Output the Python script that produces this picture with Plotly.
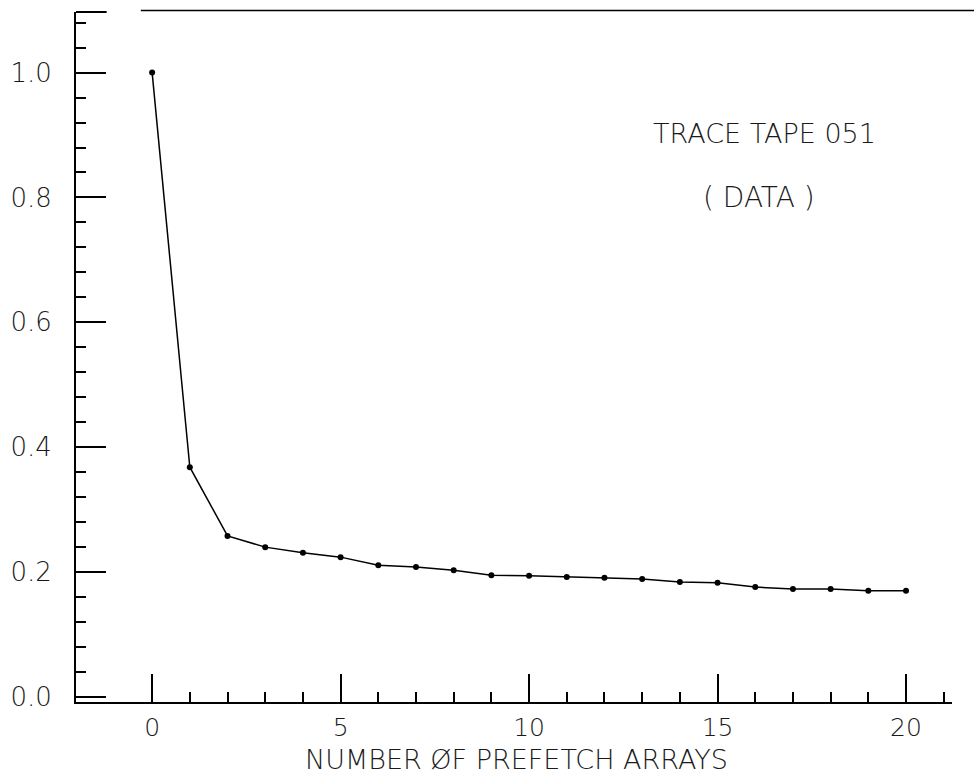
import plotly.graph_objects as go

# Relative miss count versus number of prefetch arrays (trace tape 051)
prefetch_arrays = list(range(0, 21))
relative_misses = [1.000, 0.368, 0.258, 0.240, 0.231, 0.224, 0.211, 0.208, 0.203,
                   0.195, 0.194, 0.192, 0.191, 0.189, 0.184, 0.183, 0.176, 0.173,
                   0.173, 0.170, 0.170]

x_major = [0, 5, 10, 15, 20]
x_minor = [i for i in range(1, 22) if i % 5 != 0]
y_major = [0.0, 0.2, 0.4, 0.6, 0.8, 1.0]
y_minor = [round(0.04 * k, 2) for k in range(1, 28) if k % 5 != 0]

x_title = "NUMBER ØF PREFETCH ARRAYS"
label_lines = ["TRACE TAPE 051", "( DATA )"]

FONT = dict(family="'DejaVu Sans', sans-serif", color="#1a1a1a", weight=200)

fig = go.Figure()
fig.add_trace(go.Scatter(
    x=prefetch_arrays, y=relative_misses,
    mode="lines+markers",
    line=dict(color="black", width=1.5),
    marker=dict(color="black", size=6),
    showlegend=False,
))

fig.update_layout(
    width=974, height=777,
    margin=dict(l=76, r=22, t=12, b=75),
    paper_bgcolor="white", plot_bgcolor="white",
    font=dict(**FONT, size=26),
    xaxis=dict(
        range=[-2.02, 21.22],
        automargin=False,
        showgrid=False, zeroline=False,
        showline=True, linecolor="black", linewidth=2,
        ticks="inside", ticklen=28, tickwidth=1.5, tickcolor="black",
        tickvals=x_major, ticktext=[str(v) for v in x_major],
        tickfont=dict(**FONT, size=25),
        ticklabelstandoff=2,
        minor=dict(tickvals=x_minor, ticks="inside", ticklen=10,
                   tickwidth=1.5, tickcolor="black"),
    ),
    yaxis=dict(
        range=[-0.008, 1.097],
        automargin=False,
        showgrid=False, zeroline=False,
        showline=True, linecolor="black", linewidth=2,
        ticks="inside", ticklen=30, tickwidth=1.5, tickcolor="black",
        tickvals=y_major, ticktext=[f"{v:.1f}" for v in y_major],
        tickfont=dict(**FONT, size=26),
        ticklabelstandoff=17,
        minor=dict(tickvals=y_minor, ticks="inside", ticklen=10,
                   tickwidth=1.5, tickcolor="black"),
    ),
)

# Frame line across the top of the plot
fig.add_shape(type="line", xref="paper", yref="paper",
              x0=0.0, x1=0.035, y0=1.0, y1=1.0,
              line=dict(color="black", width=2))
fig.add_shape(type="line", xref="paper", yref="paper",
              x0=0.074, x1=1.03, y0=1.002, y1=1.002,
              line=dict(color="black", width=1.5))

# Axis title below the tick labels
fig.add_annotation(x=0.503, y=-0.084, xref="paper", yref="paper",
                   text=x_title, showarrow=False, yanchor="middle",
                   font=dict(**FONT, size=27))

# Labels in the upper right
fig.add_annotation(x=16.25, y=0.903, xref="x", yref="y", text=label_lines[0],
                   showarrow=False, font=dict(**FONT, size=27))
fig.add_annotation(x=16.1, y=0.80, xref="x", yref="y", text=label_lines[1],
                   showarrow=False, font=dict(**FONT, size=28))

fig.write_html("out.html")
